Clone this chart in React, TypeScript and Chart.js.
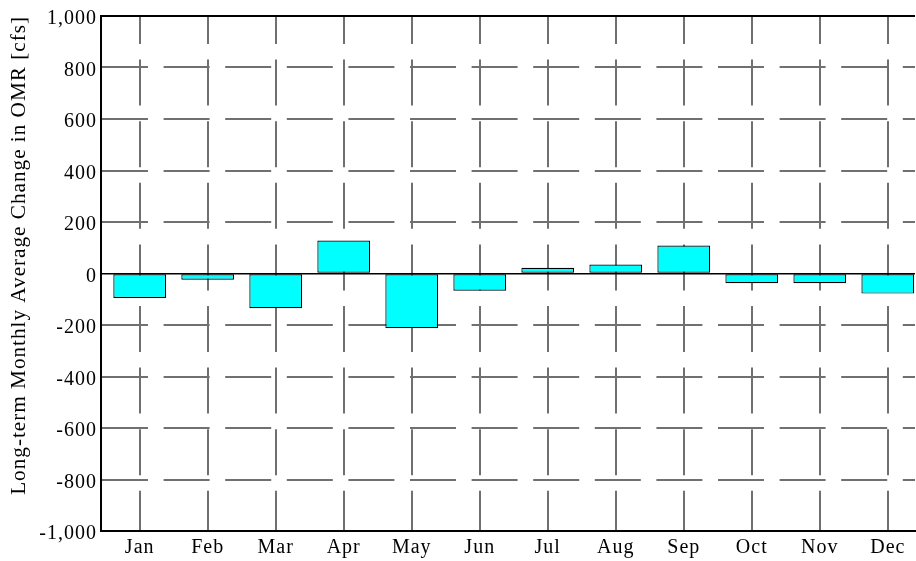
import React, { useEffect, useRef } from 'react';
import { Chart, registerables } from 'chart.js';

Chart.register(...registerables);

const months = ['Jan', 'Feb', 'Mar', 'Apr', 'May', 'Jun', 'Jul', 'Aug', 'Sep', 'Oct', 'Nov', 'Dec'];
const changeCfs = [-95, -24, -135, 128, -212, -67, 22, 35, 109, -38, -38, -78];
const yTickValues = [-1000, -800, -600, -400, -200, 0, 200, 400, 600, 800, 1000];
const yTitle = 'Long-term Monthly Average Change in OMR [cfs]';

const FONT = 'Liberation Serif, Times New Roman, serif';

export default function App() {
  const ref = useRef<HTMLCanvasElement>(null);

  useEffect(() => {
    document.body.style.margin = '0';
    const spacing = {
      id: 'spacing',
      beforeLayout(c: any) { c.ctx.letterSpacing = '1px'; },
      beforeDraw(c: any) { c.ctx.letterSpacing = '1px'; },
    };
    const chart = new Chart(ref.current as HTMLCanvasElement, {
      type: 'bar',
      data: {
        datasets: [
          {
            data: months.map((_, i) => ({ x: i, y: changeCfs[i] })) as any,
            backgroundColor: '#00FFFF',
            borderColor: '#000000',
            borderWidth: 1.2,
            borderSkipped: false,
            barPercentage: 0.776,
            categoryPercentage: 1,
          },
        ],
      },
      plugins: [spacing],
      options: {
        animation: false,
        responsive: false,
        layout: { padding: { top: 11, right: 1, left: 0, bottom: 0 } },
        plugins: { legend: { display: false }, tooltip: { enabled: false } },
        scales: {
          x: {
            type: 'linear',
            offset: false,
            min: -0.569,
            max: 11.4,
            afterBuildTicks: (a: any) => {
              a.ticks = months.map((_, i) => ({ value: i }));
            },
            afterFit: (a: any) => {
              a.height = 30;
            },
            grid: { color: '#707070', lineWidth: 2, drawTicks: false, offset: false },
            border: { display: true, color: '#000', width: 2, dash: [46, 15.6], dashOffset: 18 },
            ticks: {
              color: '#000',
              font: { family: FONT, size: 20 },
              padding: 5,
              autoSkip: false,
              maxRotation: 0,
              callback: (v: any) => months[v] ?? '',
            },
          },
          y: {
            min: -1000,
            max: 1000,
            afterBuildTicks: (a: any) => {
              a.ticks = yTickValues.map((v) => ({ value: v }));
            },
            afterFit: (a: any) => {
              a.width = 101;
            },
            grid: {
              drawTicks: false,
              color: (ctx: any) => {
                const v = ctx.tick?.value;
                if (v === 0 || v === 1000) return '#000';
                if (v === -1000) return 'rgba(0,0,0,0)';
                return '#707070';
              },
              lineWidth: (ctx: any) => {
                const v = ctx.tick?.value;
                if (v === 0) return 1.5;
                return 2;
              },
            },
            border: {
              display: true,
              color: '#000',
              width: 2,
              dash: (ctx: any) => {
                const v = ctx.tick?.value;
                if (v === undefined || v === 0 || v === 1000) return [];
                return [46, 15.6];
              },
            },
            ticks: {
              color: '#000',
              font: { family: FONT, size: 20 },
              padding: 4,
              labelOffset: 3,
              callback: (v: any) => Number(v).toLocaleString('en-US'),
            },
            title: {
              display: true,
              text: yTitle,
              align: 'end',
              color: '#000',
              font: { family: FONT, size: 21.2 },
              padding: { top: 7, bottom: 0 },
            },
          },
        },
      } as any,
    });
    return () => chart.destroy();
  }, []);

  return <canvas ref={ref} width={916} height={561} style={{ display: 'block' }} />;
}
